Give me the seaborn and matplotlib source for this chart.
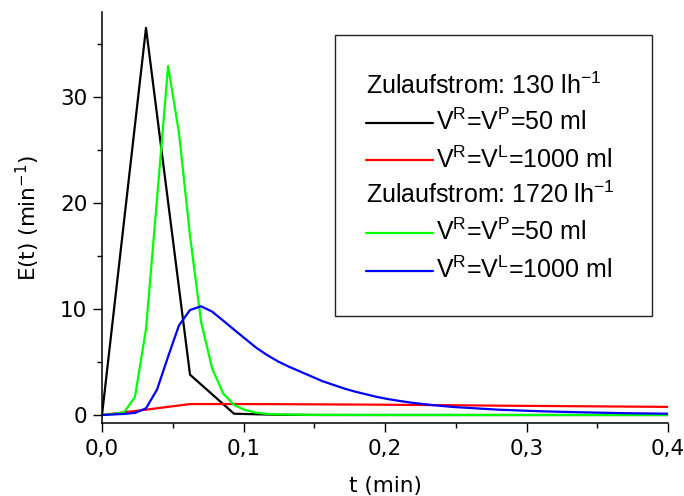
import numpy as np
import pandas as pd
import matplotlib
matplotlib.use("Agg")
import matplotlib.pyplot as plt
from matplotlib.lines import Line2D
from matplotlib.patches import Rectangle
from matplotlib.ticker import MultipleLocator
import seaborn as sns

# ---------------- data ----------------
# Zulaufstrom 130 l/h (coarse time step)
t_130 = [0.0, 0.0311, 0.0622, 0.0933, 0.1244, 0.1555, 0.1866, 0.2177, 0.2488,
         0.2799, 0.3110, 0.3421, 0.3732, 0.4043]
E_130_50ml = [0.0, 36.5, 3.8, 0.12, 0.02, 0.0, 0.0, 0.0, 0.0, 0.0, 0.0, 0.0, 0.0, 0.0]
E_130_1000ml = [0.0, 0.5, 1.03, 1.03, 1.02, 1.0, 0.98, 0.95, 0.92, 0.88, 0.85, 0.82, 0.79, 0.76]

# Zulaufstrom 1720 l/h, V=50 ml
t_1720_50 = [0.0, 0.0078, 0.0156, 0.0233, 0.0311, 0.0389, 0.0467, 0.0544, 0.0622,
             0.0700, 0.0778, 0.0856, 0.0933, 0.1011, 0.1089, 0.1167, 0.1244, 0.15,
             0.2, 0.3, 0.4]
E_1720_50ml = [0.0, 0.1, 0.25, 1.7, 8.1, 20.4, 32.9, 26.6, 16.9, 8.8, 4.4, 2.05,
               0.95, 0.47, 0.22, 0.1, 0.05, 0.01, 0.0, 0.0, 0.0]

# Zulaufstrom 1720 l/h, V=1000 ml
t_1720_1000 = [0.0, 0.0078, 0.0156, 0.0233, 0.0311, 0.0389, 0.0467, 0.0544, 0.0622,
               0.0700, 0.0778, 0.0856, 0.0933, 0.1011, 0.1089, 0.1167, 0.1244, 0.1322,
               0.1400, 0.1478, 0.1556, 0.1633, 0.1711, 0.1789, 0.1867, 0.1944, 0.2022,
               0.2100, 0.2178, 0.2256, 0.2333, 0.2411, 0.2489, 0.28, 0.31, 0.34, 0.37, 0.4]
E_1720_1000ml = [0.0, 0.05, 0.1, 0.2, 0.63, 2.4, 5.5, 8.45, 9.9, 10.25, 9.75, 8.9,
                 8.05, 7.2, 6.35, 5.65, 5.05, 4.55, 4.1, 3.65, 3.2, 2.85, 2.5, 2.2,
                 1.95, 1.7, 1.5, 1.33, 1.18, 1.05, 0.94, 0.84, 0.75, 0.5, 0.35, 0.25,
                 0.17, 0.12]

x_ticks = [0.0, 0.1, 0.2, 0.3, 0.4]
x_tick_labels = ["0,0", "0,1", "0,2", "0,3", "0,4"]
y_ticks = [0, 10, 20, 30]
y_tick_labels = ["0", "10", "20", "30"]

header_130 = "Zulaufstrom: 130 lh$^\\mathregular{-1}$"
header_1720 = "Zulaufstrom: 1720 lh$^\\mathregular{-1}$"
label_50 = "V$^\\mathregular{R}$=V$^\\mathregular{P}$=50 ml"
label_1000 = "V$^\\mathregular{R}$=V$^\\mathregular{L}$=1000 ml"

colors = {"a": "#000000", "b": "#ff0000", "c": "#00ff00", "d": "#0000ff"}

# ---------------- style ----------------
sns.set_style("ticks")
plt.rcParams["font.family"] = ["DejaVu Sans"]
plt.rcParams["mathtext.default"] = "regular"
plt.rcParams["text.color"] = "black"
plt.rcParams["axes.labelcolor"] = "black"
plt.rcParams["xtick.color"] = "black"
plt.rcParams["ytick.color"] = "black"

W, H = 684, 496
fig = plt.figure(figsize=(W / 100, H / 100), dpi=100)
ax = fig.add_axes([102 / W, 1 - 423 / H, (668 - 102) / W, (423 - 12) / H])

series = [
    (t_130, E_130_50ml, colors["a"]),
    (t_130, E_130_1000ml, colors["b"]),
    (t_1720_50, E_1720_50ml, colors["c"]),
    (t_1720_1000, E_1720_1000ml, colors["d"]),
]
for t, e, c in series:
    df = pd.DataFrame({"t": t, "E": e})
    sns.lineplot(data=df, x="t", y="E", color=c, lw=1.6, estimator=None,
                 sort=False, ax=ax, clip_on=True)

ax.set_xlim(0, 0.4)
ax.set_ylim(-0.755, 38.0)
sns.despine(ax=ax)
for s in ["left", "bottom"]:
    ax.spines[s].set_linewidth(1.1)
    ax.spines[s].set_color("black")

ax.set_xticks(x_ticks)
ax.set_xticklabels(x_tick_labels)
ax.set_yticks(y_ticks)
ax.set_yticklabels(y_tick_labels)
ax.xaxis.set_minor_locator(MultipleLocator(0.05))
ax.yaxis.set_minor_locator(MultipleLocator(5))
ax.tick_params(which="major", length=6.5, width=1.0, labelsize=15.5, colors="black")
ax.tick_params(which="minor", length=3.8, width=1.0, colors="black")
ax.tick_params(axis="x", which="major", pad=5)
ax.tick_params(axis="y", which="major", pad=4)

ax.set_xlabel("t (min)", fontsize=15.5, labelpad=12, color="black")
ax.set_ylabel("E(t) (min$^{-1}$)", fontsize=15.5, labelpad=13, color="black")

# ---------------- legend box (drawn manually) ----------------
def fx(px):
    return px / W

def fy(py):
    return 1 - py / H

rect = Rectangle((fx(335), fy(316)), fx(652) - fx(335), fy(35) - fy(316),
                 transform=fig.transFigure, fill=True, facecolor="white",
                 edgecolor="#222222", lw=1.0, zorder=5)
fig.add_artist(rect)

leg_font = dict(family=["Liberation Sans", "DejaVu Sans"], fontsize=18,
                color="black", transform=fig.transFigure, va="baseline",
                ha="left", zorder=6)
fig.text(fx(366), fy(94), header_130, **leg_font)
fig.text(fx(366), fy(203), header_1720, **leg_font)

entries = [
    (122.7, 130, label_50, colors["a"]),
    (160, 167.5, label_1000, colors["b"]),
    (233, 240, label_50, colors["c"]),
    (270.7, 278.3, label_1000, colors["d"]),
]
for ly, ty, lab, c in entries:
    fig.add_artist(Line2D([fx(366), fx(433)], [fy(ly), fy(ly)], color=c, lw=1.6,
                          transform=fig.transFigure, zorder=6))
    fig.text(fx(436), fy(ty), lab, **leg_font)

fig.savefig("out.png", dpi=100)
